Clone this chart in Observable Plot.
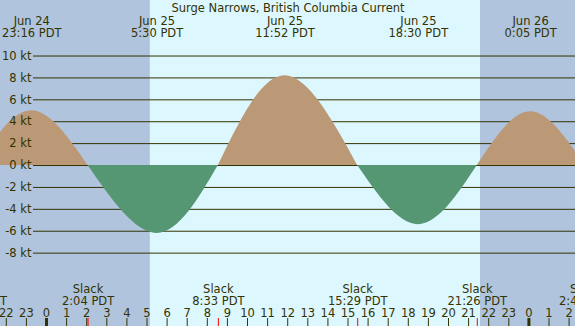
<!DOCTYPE html>
<html><head><meta charset="utf-8">
<script src="https://cdn.jsdelivr.net/npm/d3@7"></script>
<script src="https://cdn.jsdelivr.net/npm/@observablehq/plot@0.6"></script>
<style>html,body{margin:0;padding:0;background:#fff;overflow:hidden} svg{display:block}</style>
</head><body><div id="chart"></div>
<script>
const title = "Surge Narrows, British Columbia Current";
// times in hours relative to Jun 25 00:00 PDT
const slackTimes = [-3.45, 2.067, 8.55, 15.483, 21.433, 26.8];
const slackLabels = ["20:33 PDT", "2:04 PDT", "8:33 PDT", "15:29 PDT", "21:26 PDT", "2:48 PDT"];
const extremeTimes = [-0.733, 5.5, 11.867, 18.5, 24.083];
const extremeValues = [5.0, -6.2, 8.2, -5.4, 4.9];
const extremeDates = ["Jun 24", "Jun 25", "Jun 25", "Jun 25", "Jun 26"];
const extremeLabels = ["23:16 PDT", "5:30 PDT", "11:52 PDT", "18:30 PDT", "0:05 PDT"];
const sunrise = 5.17, sunset = 21.59;
const yTicks = [10, 8, 6, 4, 2, 0, -2, -4, -6, -8];
const hourTicks = d3.range(-2, 27);
const xDomain = [-2.289, 26.318];
const yDomain = [-14.70, 15.07];

const ink = "#333300";
const fontSize = 11.5;
const lh = 12 / fontSize;

const tide = [];
extremeTimes.forEach((t, i) => {
  const kind = extremeValues[i] >= 0 ? "flood" : "ebb";
  tide.push({c: i, kind, t: slackTimes[i], v: 0},
            {c: i, kind, t, v: extremeValues[i]},
            {c: i, kind, t: slackTimes[i + 1], v: 0});
});
const nights = [{a: xDomain[0] - 2, b: sunrise}, {a: sunset, b: xDomain[1] + 2}];
const days = [{a: sunrise, b: sunset}];
const extremes = extremeTimes.map((t, i) => ({t, text: extremeDates[i] + "\n" + extremeLabels[i]}));
const slacks = slackTimes.map((t, i) => ({t, text: "Slack\n" + slackLabels[i]}));

const chart = Plot.plot({
  width: 575, height: 326, margin: 0,
  style: {fontFamily: "DejaVu Sans", fontSize: fontSize + "px", background: "#fff", overflow: "hidden"},
  x: {domain: xDomain, axis: null},
  y: {domain: yDomain, axis: null},
  marks: [
    Plot.rect(nights, {x1: "a", x2: "b", y1: yDomain[0], y2: yDomain[1], fill: "#b0c4de", clip: true}),
    Plot.rect(days, {x1: "a", x2: "b", y1: yDomain[0], y2: yDomain[1], fill: "#ddf7ff", clip: true}),
    Plot.ruleY(yTicks, {insetLeft: 33, stroke: ink, strokeWidth: 1}),
    Plot.areaY(tide.filter(d => d.kind === "flood"), {x: "t", y: "v", z: "c", curve: "natural", fill: "#bb9977", clip: true}),
    Plot.areaY(tide.filter(d => d.kind === "ebb"), {x: "t", y: "v", z: "c", curve: "natural", fill: "#559673", clip: true}),
    Plot.text(yTicks, {y: d => d, frameAnchor: "left", dx: 31, textAnchor: "end", text: d => `${d} kt`, fill: ink}),
    Plot.text([title], {frameAnchor: "top", lineAnchor: "top", dy: 3, text: d => d, fill: ink}),
    Plot.text(extremes, {x: "t", frameAnchor: "top", lineAnchor: "top", dy: 15.8, text: "text", lineHeight: lh, fill: ink}),
    Plot.text(slacks, {x: "t", frameAnchor: "bottom", lineAnchor: "bottom", dy: -22, text: "text", lineHeight: lh, fill: ink}),
    Plot.ruleX(hourTicks, {x: d => d, insetTop: 318, stroke: ink}),
    Plot.ruleX(hourTicks.filter(h => h % 24 === 0), {x: d => d, insetTop: 318, stroke: ink, strokeWidth: 3}),
    Plot.ruleX(slackTimes, {x: d => d, insetTop: 318, stroke: "red"}),
    Plot.text(hourTicks, {x: d => d, frameAnchor: "bottom", lineAnchor: "bottom", dy: -10, text: d => String(((d % 24) + 24) % 24), fill: ink})
  ]
});
document.getElementById("chart").appendChild(chart);
</script>
</body></html>
